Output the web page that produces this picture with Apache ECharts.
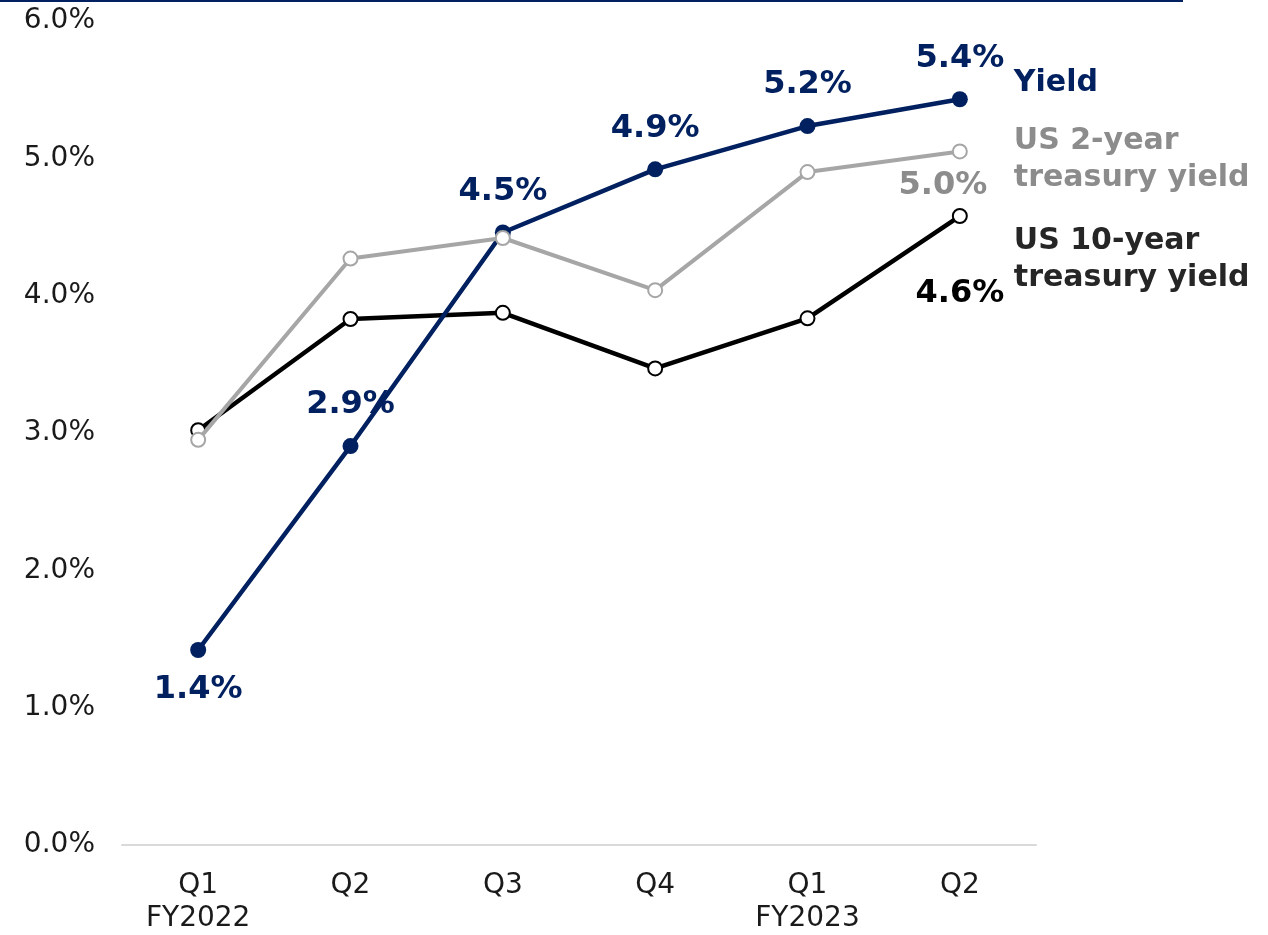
<!DOCTYPE html>
<html>
<head>
<meta charset="utf-8">
<script src="https://cdn.jsdelivr.net/npm/echarts@6/dist/echarts.min.js"></script>
<style>
html,body{margin:0;padding:0;background:#fff;}
#chart{width:1268px;height:935px;}
</style>
</head>
<body>
<div id="chart"></div>
<script>
const categories = ['Q1\nFY2022', 'Q2', 'Q3', 'Q4', 'Q1\nFY2023', 'Q2'];
const yieldValues = [1.42, 2.905, 4.46, 4.92, 5.235, 5.43];
const us2Values = [2.95, 4.27, 4.42, 4.04, 4.90, 5.05];
const us10Values = [3.02, 3.83, 3.875, 3.47, 3.835, 4.58];
const yTicks = [0, 1, 2, 3, 4, 5, 6];
const seriesNames = ['Yield', 'US 2-year\ntreasury yield', 'US 10-year\ntreasury yield'];

const NAVY = '#002060';
const GRAY = '#a6a6a6';
const GRAYTXT = '#8c8c8c';
const BLACK = '#000000';
const FONT = '"DejaVu Sans", Verdana, sans-serif';

const chart = echarts.init(document.getElementById('chart'), null, {renderer: 'canvas'});

// Yield data items: first label sits below the point, others above
const yieldData = yieldValues.map((v, i) => i === 0
  ? {value: v, label: {position: 'bottom', distance: 16}}
  : {value: v});

const option = {
  animation: false,
  grid: {left: 122, right: 232, top: 21, bottom: 87, containLabel: false},
  xAxis: {
    type: 'category',
    data: categories,
    boundaryGap: true,
    axisLine: {show: true, lineStyle: {color: '#d9d9d9', width: 2}},
    axisTick: {show: false},
    axisLabel: {fontFamily: FONT, fontSize: 28, color: '#1a1a1a', margin: 24, lineHeight: 33}
  },
  yAxis: {
    type: 'value',
    min: yTicks[0],
    max: yTicks[yTicks.length - 1],
    interval: 1,
    splitLine: {show: false},
    axisLine: {show: false},
    axisTick: {show: false},
    axisLabel: {fontFamily: FONT, fontSize: 28, color: '#1a1a1a', margin: 27,
      formatter: v => v.toFixed(1) + '%'}
  },
  graphic: [{
    type: 'line', shape: {x1: 0, y1: 1, x2: 1183, y2: 1},
    style: {stroke: NAVY, lineWidth: 2}
  }],
  series: [
    {
      name: seriesNames[2],
      type: 'line',
      data: us10Values,
      z: 2,
      symbol: 'circle',
      symbolSize: 14,
      lineStyle: {color: BLACK, width: 4.5},
      itemStyle: {color: '#fff', borderColor: BLACK, borderWidth: 2},
      label: {
        show: true,
        formatter: p => p.dataIndex === us10Values.length - 1 ? p.value.toFixed(1) + '%' : '',
        position: 'bottom', distance: 54,
        fontFamily: FONT, fontWeight: 'bold', fontSize: 32, color: BLACK
      },
      endLabel: {
        show: true,
        formatter: seriesNames[2],
        fontFamily: FONT, fontWeight: 'bold', fontSize: 30, color: '#262626',
        lineHeight: 37, align: 'left', verticalAlign: 'middle',
        distance: 0, offset: [54, 44]
      }
    },
    {
      name: seriesNames[0],
      type: 'line',
      data: yieldData,
      z: 3,
      symbol: 'circle',
      symbolSize: 16,
      lineStyle: {color: NAVY, width: 4.5},
      itemStyle: {color: NAVY},
      label: {
        show: true,
        formatter: p => p.value.toFixed(1) + '%',
        position: 'top',
        distance: 17,
        fontFamily: FONT, fontWeight: 'bold', fontSize: 32, color: NAVY
      },
      endLabel: {
        show: true,
        formatter: seriesNames[0],
        fontFamily: FONT, fontWeight: 'bold', fontSize: 30, color: NAVY,
        align: 'left', verticalAlign: 'middle',
        distance: 0, offset: [54, -16]
      }
    },
    {
      name: seriesNames[1],
      type: 'line',
      data: us2Values,
      z: 4,
      symbol: 'circle',
      symbolSize: 14,
      lineStyle: {color: GRAY, width: 4},
      itemStyle: {color: '#fff', borderColor: GRAY, borderWidth: 2},
      label: {
        show: true,
        formatter: p => p.dataIndex === us2Values.length - 1 ? p.value.toFixed(1) + '%' : '',
        position: 'bottom', distance: 10, offset: [-17, 0],
        fontFamily: FONT, fontWeight: 'bold', fontSize: 32, color: GRAYTXT
      },
      endLabel: {
        show: true,
        formatter: seriesNames[1],
        fontFamily: FONT, fontWeight: 'bold', fontSize: 30, color: GRAYTXT,
        lineHeight: 37, align: 'left', verticalAlign: 'middle',
        distance: 0, offset: [54, 8]
      }
    }
  ]
};

chart.setOption(option);
</script>
</body>
</html>
